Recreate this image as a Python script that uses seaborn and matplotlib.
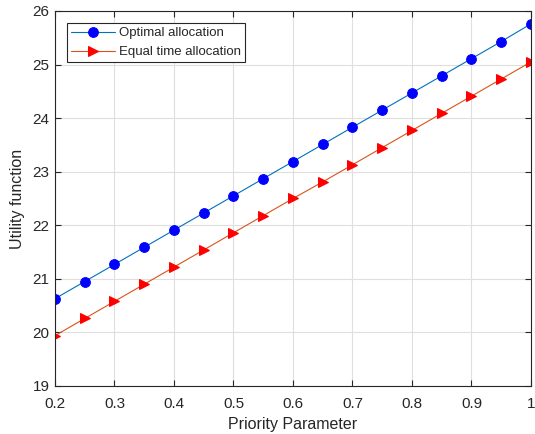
import matplotlib
matplotlib.use("Agg")
import matplotlib.pyplot as plt
import seaborn as sns
import pandas as pd

priority = [0.2, 0.25, 0.3, 0.35, 0.4, 0.45, 0.5, 0.55, 0.6, 0.65, 0.7, 0.75, 0.8, 0.85, 0.9, 0.95, 1.0]
optimal = [20.63, 20.95, 21.27, 21.59, 21.91, 22.23, 22.55, 22.87, 23.19, 23.51, 23.83, 24.15, 24.47, 24.79, 25.11, 25.43, 25.76]
equal_time = [19.94, 20.26, 20.58, 20.90, 21.22, 21.54, 21.86, 22.18, 22.50, 22.81, 23.13, 23.45, 23.77, 24.09, 24.41, 24.73, 25.05]
series_names = ["Optimal allocation", "Equal time allocation"]
xticks = [0.2, 0.3, 0.4, 0.5, 0.6, 0.7, 0.8, 0.9, 1.0]
xtick_labels = ["0.2", "0.3", "0.4", "0.5", "0.6", "0.7", "0.8", "0.9", "1"]
yticks = [19, 20, 21, 22, 23, 24, 25, 26]

sns.set_style("white")
plt.rcParams['font.family'] = ['Liberation Sans', 'DejaVu Sans']

df_opt = pd.DataFrame({"x": priority, "y": optimal})
df_eq = pd.DataFrame({"x": priority, "y": equal_time})

fig = plt.figure(figsize=(5.35, 4.34), dpi=100)
ax = fig.add_axes([0.1028, 0.1106, 0.8897, 0.8641])

sns.lineplot(data=df_opt, x="x", y="y", ax=ax, color="#0072BD", linewidth=0.8,
             marker="o", markersize=7, markerfacecolor="#0000FF", markeredgecolor="#0000FF",
             label=series_names[0])
sns.lineplot(data=df_eq, x="x", y="y", ax=ax, color="#D95319", linewidth=0.8,
             marker=">", markersize=7.5, markerfacecolor="#FF0000", markeredgecolor="#FF0000",
             label=series_names[1])

ax.set_xlim(0.2, 1.0)
ax.set_ylim(19, 26)
ax.set_xticks(xticks)
ax.set_xticklabels(xtick_labels)
ax.set_yticks(yticks)
ax.grid(True, color="#DFDFDF", linewidth=0.8)
ax.set_axisbelow(True)
for s in ax.spines.values():
    s.set_color("#262626")
    s.set_linewidth(0.8)
ax.tick_params(direction="in", length=4, width=0.8, color="#262626",
               labelsize=11, labelcolor="#262626", top=True, right=True,
               bottom=True, left=True, labeltop=False, labelright=False)
ax.tick_params(axis="x", pad=8)
ax.tick_params(axis="y", pad=4)
ax.set_xlabel("Priority Parameter", fontsize=11.5, color="#262626", labelpad=4)
ax.set_ylabel("Utility function", fontsize=11.5, color="#262626", labelpad=5)

leg = ax.legend(loc="upper left", bbox_to_anchor=(0.025, 0.968), borderaxespad=0, fontsize=9.5,
                frameon=True, fancybox=False, edgecolor="#262626", framealpha=1,
                borderpad=0.32, handlelength=3.3, labelspacing=0.5, handletextpad=0.3)
leg.get_frame().set_linewidth(0.8)

fig.savefig("out.png", dpi=100)
